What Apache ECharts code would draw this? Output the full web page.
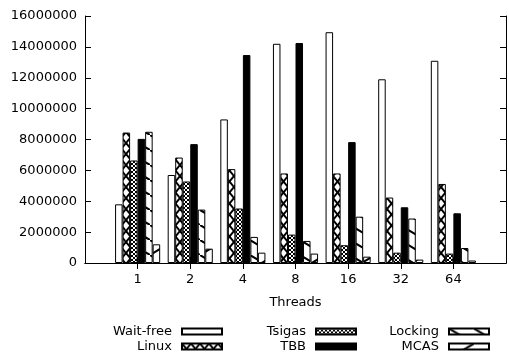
<!DOCTYPE html>
<html>
<head>
<meta charset="utf-8">
<script src="https://cdn.jsdelivr.net/npm/echarts@6/dist/echarts.min.js"></script>
<style>
html,body{margin:0;padding:0;background:#fff}
#main{width:509px;height:354px}
</style>
</head>
<body>
<div id="main"></div>
<script>
// thread counts (padded with empty slots so the ticks land like gnuplot's)
var threads = ['', '1', '2', '4', '8', '16', '32', '64', '']
var yTicks = [0, 2000000, 4000000, 6000000, 8000000, 10000000, 12000000, 14000000, 16000000]

var waitFree = ['-', 3800000, 5700000, 9300000, 14200000, 14950000, 11900000, 13100000, '-']
var linux    = ['-', 8450000, 6830000, 6080000, 5800000, 5800000, 4240000, 5120000, '-']
var tsigas   = ['-', 6640000, 5280000, 3530000, 1840000, 1150000, 670000, 610000, '-']
var tbb      = ['-', 8040000, 7700000, 13470000, 14250000, 7830000, 3610000, 3220000, '-']
var locking  = ['-', 8500000, 3460000, 1690000, 1430000, 3000000, 2880000, 970000, '-']
var mcas     = ['-', 1210000, 930000, 670000, 610000, 410000, 220000, 160000, '-']

function makePattern(w, h, draw){
	var c = document.createElement('canvas')
	c.width = w
	c.height = h
	var cxt = c.getContext('2d')
	cxt.fillStyle = '#fff'
	cxt.fillRect(0, 0, w, h)
	cxt.strokeStyle = '#000'
	cxt.lineCap = 'square'
	draw(cxt, w, h)
	return {image: c, repeat: 'repeat'}
}

function line(cxt, x1, y1, x2, y2, lw){
	cxt.beginPath()
	cxt.moveTo(x1, y1)
	cxt.lineTo(x2, y2)
	cxt.lineWidth = lw
	cxt.stroke()
}

var patLinux = makePattern(9, 11, function(cxt, w, h){
	line(cxt, 0, 0, w, h, 2)
	line(cxt, w, 0, 0, h, 2)
})
var patTsigas = makePattern(4, 4, function(cxt, w, h){
	line(cxt, 0, 0, w, h, 1)
	line(cxt, w, 0, 0, h, 1)
})
var patLocking = makePattern(25, 15, function(cxt, w, h){
	line(cxt, -w, -h, 2 * w, 2 * h, 2)
})
var patMcas = makePattern(25, 15, function(cxt, w, h){
	line(cxt, -w, 2 * h, 2 * w, -h, 2)
})

var names = ['Wait-free', 'Linux', 'Tsigas', 'TBB', 'Locking', 'MCAS']
var values = [waitFree, linux, tsigas, tbb, locking, mcas]
var fills = ['#fff', patLinux, patTsigas, '#000', patLocking, patMcas]

var font = 'DejaVu Sans'

var chart = echarts.init(document.getElementById('main'), null, {renderer: 'canvas'})

var series = names.map(function(n, i){
	return {
		name: n,
		type: 'bar',
		data: values[i],
		barGap: '0%',
		barCategoryGap: '14.2857%',
		itemStyle: {color: fills[i], borderColor: '#000', borderWidth: 1},
		emphasis: {disabled: true},
		animation: false
	}
})

// legends: one per entry so the swatches line up like gnuplot's key
var legendPos = [
	{right: 286, top: 325}, {right: 286, top: 340},
	{right: 152, top: 325}, {right: 152, top: 340},
	{right: 19, top: 325}, {right: 19, top: 340}
]
var legends = names.map(function(n, i){
	return {
		data: [n],
		right: legendPos[i].right,
		top: legendPos[i].top,
		align: 'right',
		padding: 0,
		icon: 'rect',
		itemWidth: 40,
		itemHeight: 6,
		selectedMode: false,
		textStyle: {fontFamily: font, fontSize: 13, color: '#000', padding: [0, 5, 0, 0]}
	}
})

var tickShow = function(i){ return i > 0 && i < threads.length - 1 }

option = {
	animation: false,
	grid: {left: 85, right: 1, top: 16, bottom: 91},
	legend: legends,
	xAxis: [
		{
			type: 'category',
			data: threads,
			boundaryGap: false,
			name: 'Threads',
			nameLocation: 'middle',
			nameGap: 33,
			nameTextStyle: {fontFamily: font, fontSize: 13, color: '#000'},
			axisLine: {lineStyle: {color: '#000', width: 1}},
			axisTick: {inside: true, length: 6, interval: tickShow, lineStyle: {color: '#000'}},
			axisLabel: {interval: 0, margin: 10, fontFamily: font, fontSize: 13, color: '#000'},
			splitLine: {show: false}
		},
		{
			type: 'category',
			data: threads,
			boundaryGap: false,
			position: 'top',
			axisLine: {lineStyle: {color: '#000', width: 1}},
			axisTick: {inside: true, length: 6, interval: tickShow, lineStyle: {color: '#000'}},
			axisLabel: {show: false},
			splitLine: {show: false}
		}
	],
	yAxis: [
		{
			type: 'value',
			min: yTicks[0],
			max: yTicks[yTicks.length - 1],
			interval: yTicks[1] - yTicks[0],
			axisLine: {show: true, lineStyle: {color: '#000', width: 1}},
			axisTick: {show: true, inside: true, length: 6, lineStyle: {color: '#000'}},
			axisLabel: {margin: 8, fontFamily: font, fontSize: 13, color: '#000', formatter: function(v){ return String(v) }},
			splitLine: {show: false}
		},
		{
			type: 'value',
			position: 'right',
			min: yTicks[0],
			max: yTicks[yTicks.length - 1],
			interval: yTicks[1] - yTicks[0],
			axisLine: {show: true, lineStyle: {color: '#000', width: 1}},
			axisTick: {show: true, inside: true, length: 6, lineStyle: {color: '#000'}},
			axisLabel: {show: false},
			splitLine: {show: false}
		}
	],
	series: series
}

chart.setOption(option)
</script>
</body>
</html>
